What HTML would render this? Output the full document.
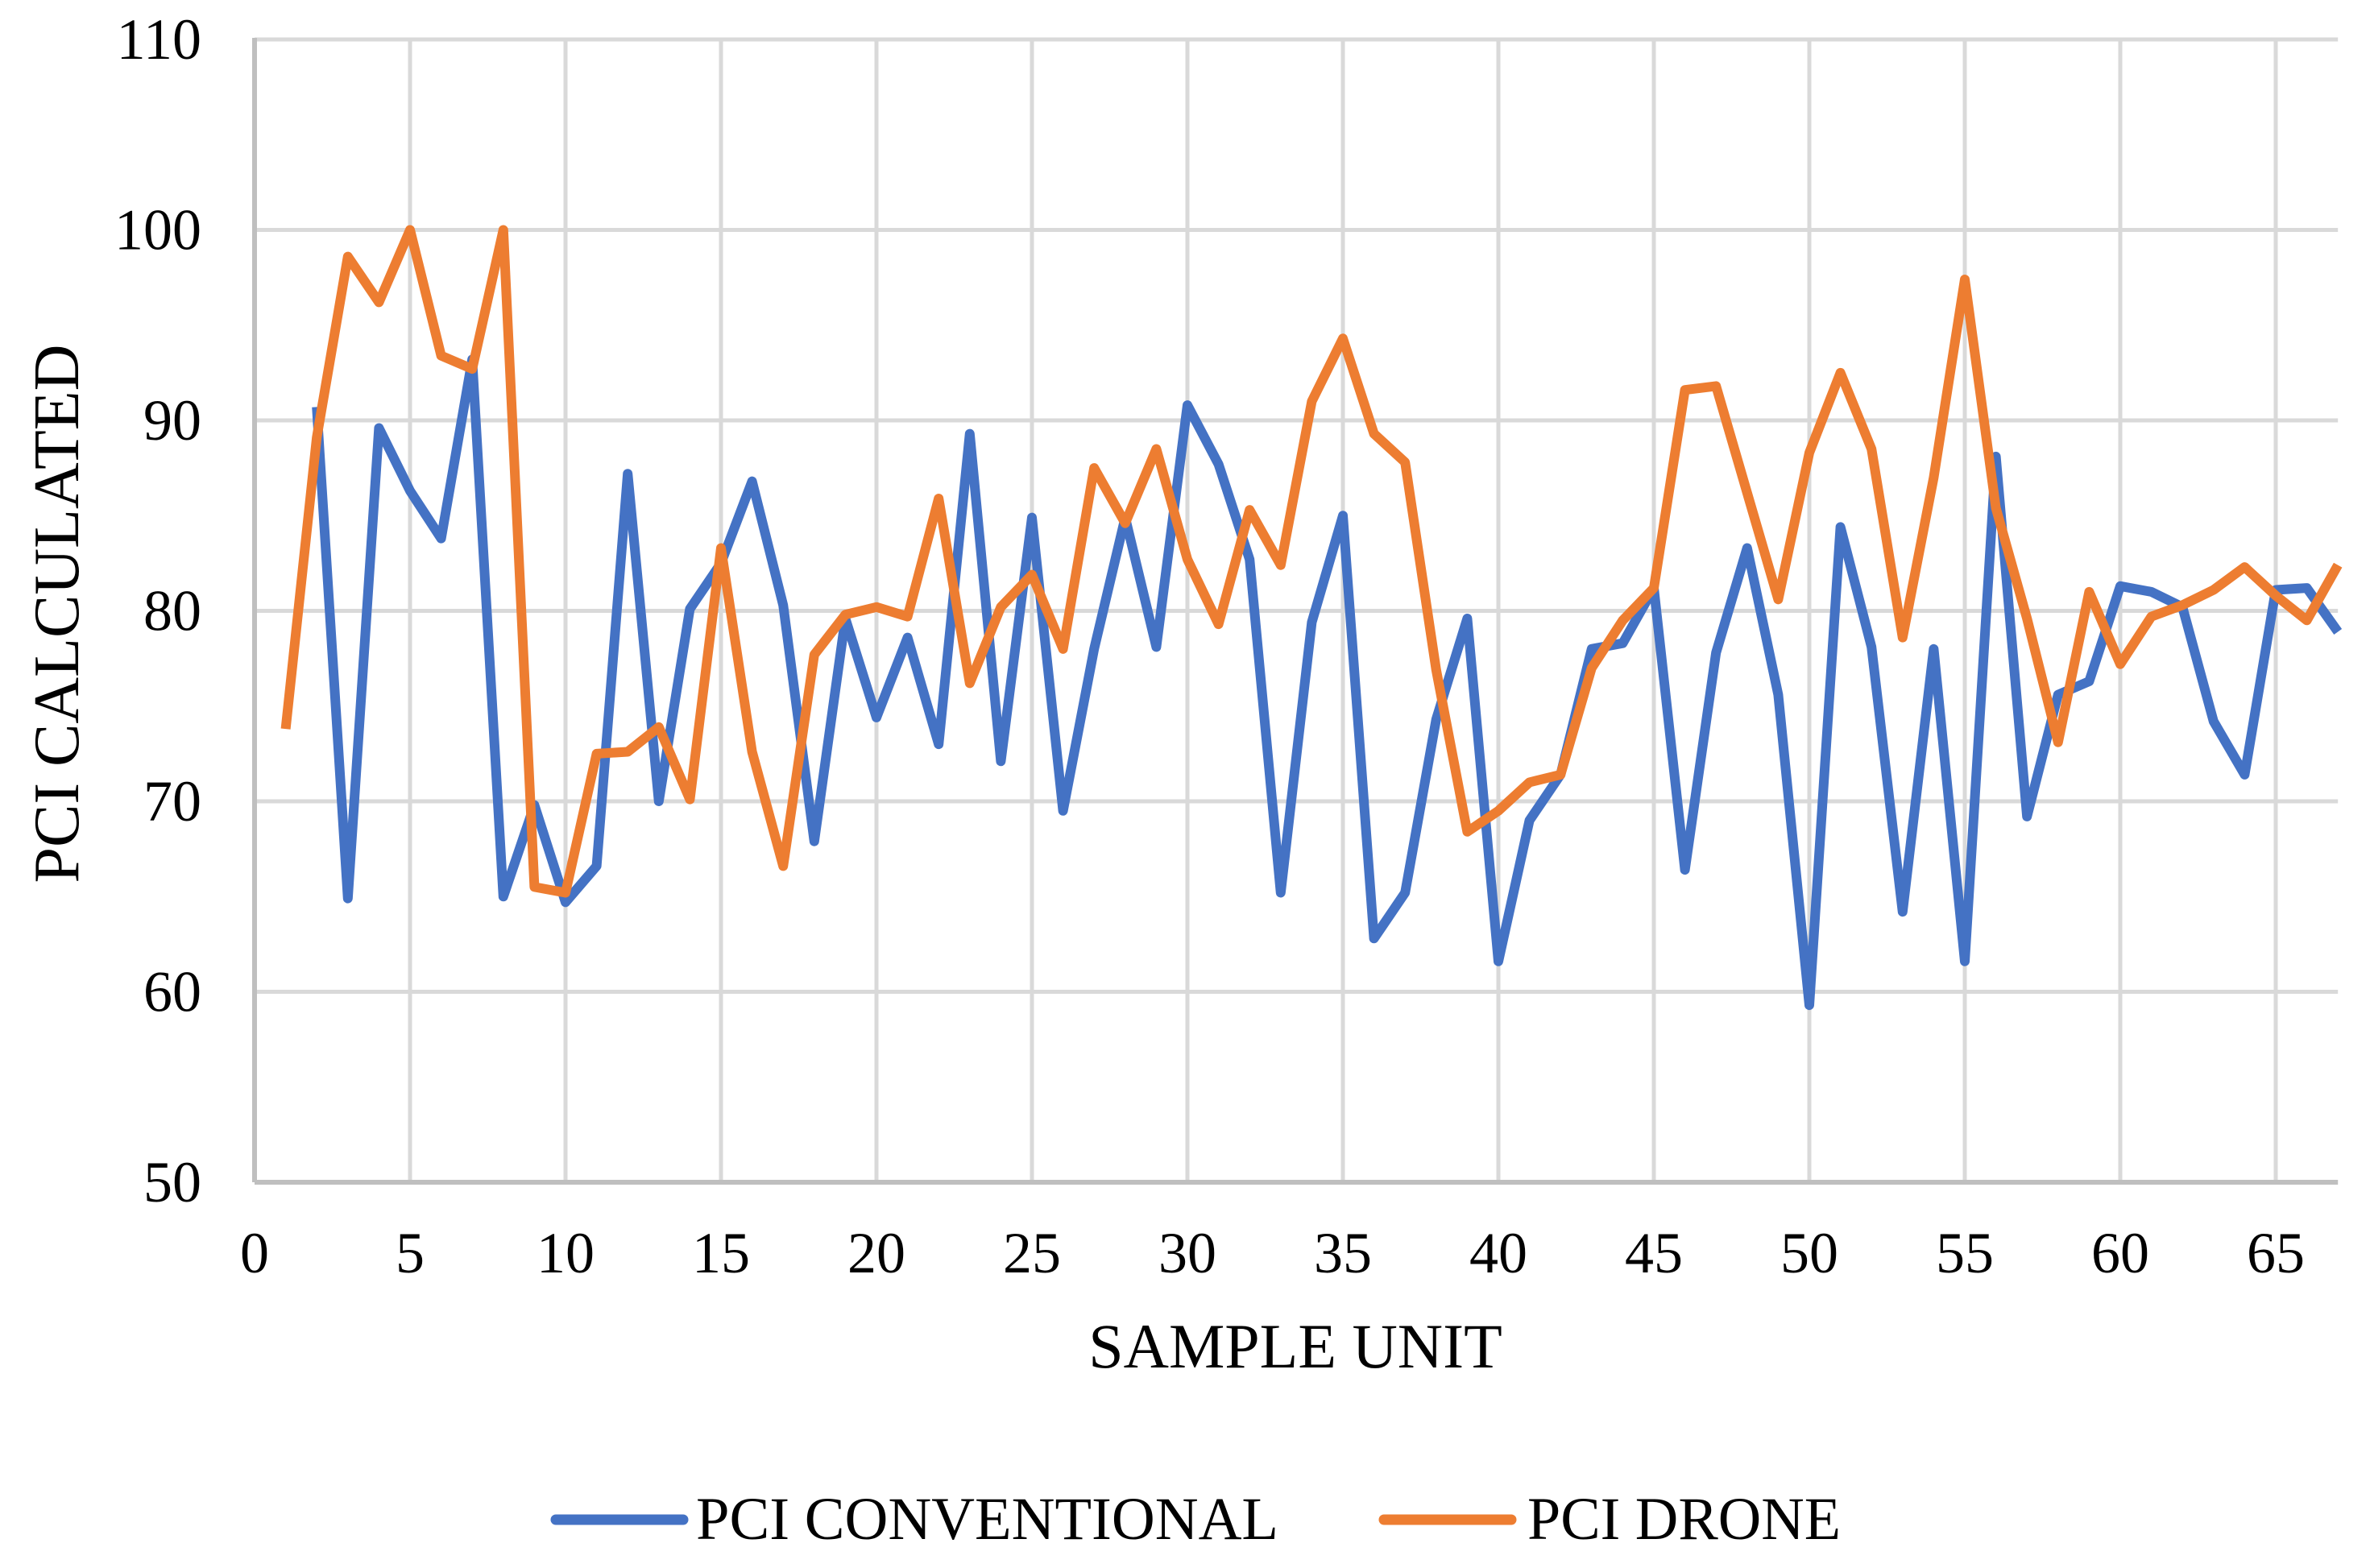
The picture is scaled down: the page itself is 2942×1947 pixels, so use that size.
<!DOCTYPE html>
<html><head><meta charset="utf-8"><style>
html,body{margin:0;padding:0;background:#fff}
svg{display:block}
text{font-family:"Liberation Serif",serif;fill:#000}
</style></head><body>
<svg id="chart" width="2942" height="1947" viewBox="0 0 2942 1947" xmlns="http://www.w3.org/2000/svg">
<g id="grid"></g>
<g id="axes"></g>
<g id="series"></g>
<g id="labels"></g>
<text transform="translate(97,762) rotate(-90)" text-anchor="middle" font-size="80">PCI CALCULATED</text>
<text x="1608" y="1698" text-anchor="middle" font-size="78">SAMPLE UNIT</text>
<g>
<g>
<line x1="690" y1="1887" x2="848" y2="1887" stroke="#4472C4" stroke-width="13" stroke-linecap="round"/>
<text x="864" y="1911" font-size="75" textLength="723" lengthAdjust="spacingAndGlyphs">PCI CONVENTIONAL</text>
</g>
<g>
<line x1="1718" y1="1887" x2="1876" y2="1887" stroke="#ED7D31" stroke-width="13" stroke-linecap="round"/>
<text x="1896" y="1911" font-size="75" textLength="389" lengthAdjust="spacingAndGlyphs">PCI DRONE</text>
</g>
</g>
</svg>
<script>
const yTicks = [50,60,70,80,90,100,110];
const xTicks = [0,5,10,15,20,25,30,35,40,45,50,55,60,65];
const convX = [2,3,4,5,6,7,8,9,10,11,12,13,14,15,16,17,18,19,20,21,22,23,24,25,26,27,28,29,30,31,32,33,34,35,36,37,38,39,40,41,42,43,44,45,46,47,48,49,50,51,52,53,54,55,56,57,58,59,60,61,62,63,64,65,66,67];
const convVals = [90.7,64.9,89.6,86.3,83.8,93.2,65.0,69.8,64.7,66.6,87.2,70.0,80.1,82.5,86.8,80.3,67.9,79.6,74.4,78.6,73.0,89.3,72.1,84.9,69.5,78.0,84.9,78.1,90.8,87.7,82.7,65.2,79.4,85.0,62.8,65.2,74.3,79.6,61.6,69.0,71.4,78.0,78.3,81.2,66.4,77.8,83.3,75.6,59.3,84.4,78.1,64.2,78.0,61.6,88.1,69.2,75.6,76.3,81.3,81.0,80.2,74.2,71.4,81.1,81.2,78.9];
const droneX = [1,2,3,4,5,6,7,8,9,10,11,12,13,14,15,16,17,18,19,20,21,22,23,24,25,26,27,28,29,30,31,32,33,34,35,36,37,38,39,40,41,42,43,44,45,46,47,48,49,50,51,52,53,54,55,56,57,58,59,60,61,62,63,64,65,66,67];
const droneVals = [73.8,89.1,98.6,96.2,100,93.4,92.7,100,65.5,65.2,72.5,72.6,73.9,70.1,83.3,72.6,66.6,77.7,79.8,80.2,79.7,85.9,76.2,80.2,81.9,78.0,87.5,84.6,88.5,82.7,79.3,85.3,82.4,91.0,94.3,89.3,87.8,76.9,68.4,69.5,71.0,71.4,77.0,79.5,81.2,91.6,91.8,86.2,80.6,88.3,92.5,88.5,78.6,87.0,97.4,85.4,79.6,73.1,81.0,77.2,79.7,80.3,81.1,82.3,80.8,79.5,82.4];

const X0=316, PX=38.6, XMAX=67, Y50=1468, PY=23.65;
const xs = v => X0 + v*PX;
const ys = v => Y50 - (v-50)*PY;
const NS='http://www.w3.org/2000/svg';
function mk(tag, attrs, parent){const e=document.createElementNS(NS,tag);for(const k in attrs)e.setAttribute(k,attrs[k]);parent.appendChild(e);return e;}
const grid=document.getElementById('grid'), axes=document.getElementById('axes'), series=document.getElementById('series'), labels=document.getElementById('labels');
const right=xs(XMAX);
yTicks.forEach(t=>{
  if(t>50){const l=mk('line',{x1:X0,x2:right,y1:ys(t),y2:ys(t),stroke:'#d9d9d9','stroke-width':5},grid);
  
  }
  const tx=mk('text',{x:250,y:ys(t)+24,'text-anchor':'end','font-size':72},labels);
  tx.textContent=t;
  
  
});
xTicks.forEach(t=>{
  if(t>0){const l=mk('line',{x1:xs(t),x2:xs(t),y1:ys(110),y2:ys(50),stroke:'#d9d9d9','stroke-width':5},grid);
  
  }
  const tx=mk('text',{x:xs(t),y:1580,'text-anchor':'middle','font-size':72},labels);
  tx.textContent=t;
  
  
});
const ya=mk('line',{x1:X0,x2:X0,y1:ys(110)-2,y2:ys(50),stroke:'#bfbfbf','stroke-width':6},axes);


const xa=mk('line',{x1:X0,x2:right,y1:ys(50),y2:ys(50),stroke:'#bfbfbf','stroke-width':6},axes);


function line(xv,yv,color,name){
  const pts=xv.map((x,i)=>xs(x).toFixed(1)+','+ys(yv[i]).toFixed(1)).join(' ');
  const p=mk('polyline',{points:pts,fill:'none',stroke:color,'stroke-width':12,'stroke-linejoin':'round'},series);
  
  
}
line(convX,convVals,'#4472C4','pci-conventional-line');
line(droneX,droneVals,'#ED7D31','pci-drone-line');
</script>
</body></html>
